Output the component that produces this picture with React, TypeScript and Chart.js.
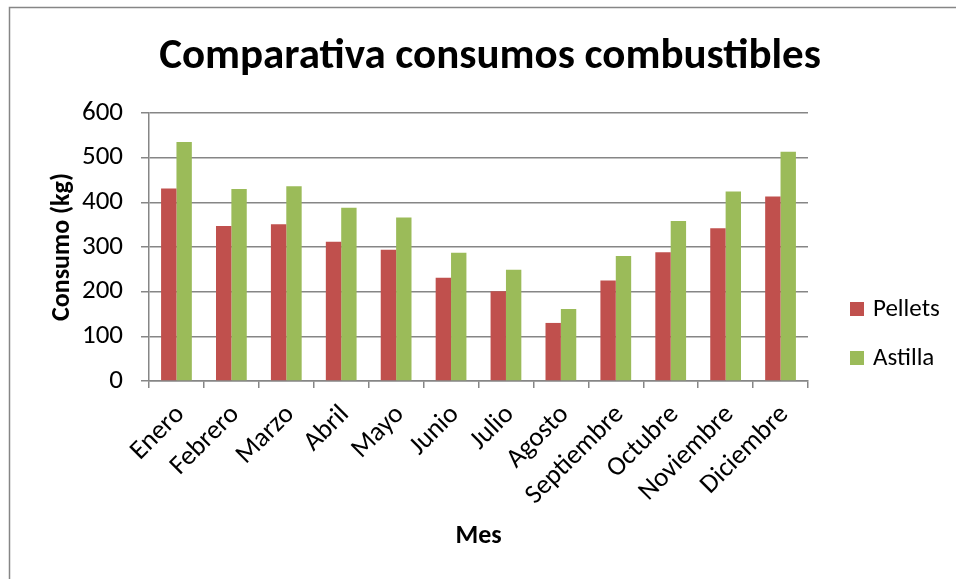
import React, { useEffect, useRef } from "react";
import { Chart, registerables } from "chart.js";

Chart.register(...registerables);

const months = [
  "Enero", "Febrero", "Marzo", "Abril", "Mayo", "Junio",
  "Julio", "Agosto", "Septiembre", "Octubre", "Noviembre", "Diciembre",
];
const pellets = [431, 347, 351, 312, 294, 231, 201, 130, 225, 288, 342, 413];
const astilla = [535, 430, 436, 388, 366, 287, 249, 161, 280, 358, 424, 513];
const yTicks = [0, 100, 200, 300, 400, 500, 600];

const chartTitle = "Comparativa consumos combustibles";
const seriesNames = ["Pellets", "Astilla"];
const seriesColors = ["#C0504D", "#9BBB59"];

const FONT = "Carlito, Calibri, Lato, sans-serif";
const GRID = "#868686";

// Outer frame, heading and the right-hand key
const decorations = {
  id: "decorations",
  afterDraw(chart: any) {
    const ctx = chart.ctx as CanvasRenderingContext2D;
    ctx.save();
    ctx.strokeStyle = GRID;
    ctx.lineWidth = 1.5;
    ctx.strokeRect(9.5, 7.5, 980, 620);

    ctx.fillStyle = "#000";
    ctx.font = `bold 43px ${FONT}`;
    ctx.textAlign = "center";
    ctx.textBaseline = "middle";
    ctx.fillText(chartTitle, 490, 57);

    ctx.font = `25px ${FONT}`;
    ctx.textAlign = "left";
    const ys = [309, 358];
    chart.data.datasets.forEach((ds: any, i: number) => {
      ctx.fillStyle = ds.backgroundColor;
      ctx.fillRect(850, ys[i] - 7, 14, 14);
      ctx.fillStyle = "#000";
      ctx.fillText(ds.label, 873, ys[i] + 1);
    });
    ctx.restore();
  },
};

export default function App() {
  const ref = useRef<HTMLCanvasElement>(null);

  useEffect(() => {
    if (!ref.current) return;
    const chart = new Chart(ref.current, {
      type: "bar",
      data: {
        labels: months,
        datasets: [
          { label: seriesNames[0], data: pellets, backgroundColor: seriesColors[0] },
          { label: seriesNames[1], data: astilla, backgroundColor: seriesColors[1] },
        ],
      },
      options: {
        responsive: false,
        animation: false,
        devicePixelRatio: 1,
        layout: { padding: { left: 10, top: 113, right: 148, bottom: 0 } },
        datasets: {
          bar: { categoryPercentage: 0.56, barPercentage: 1 },
        },
        plugins: {
          legend: { display: false },
          title: { display: false },
          tooltip: { enabled: false },
        },
        scales: {
          x: {
            afterFit(scale: any) {
              scale.height = 198;
            },
            grid: {
              drawOnChartArea: false,
              drawTicks: true,
              tickLength: 7,
              color: GRID,
              lineWidth: 1.5,
            },
            border: { color: GRID, width: 1.5 },
            ticks: {
              color: "#000",
              font: { family: FONT, size: 27 },
              minRotation: 45,
              maxRotation: 45,
              autoSkip: false,
              padding: 11,
              labelOffset: 4,
            },
            title: {
              display: true,
              text: "Mes",
              color: "#000",
              font: { family: FONT, size: 26, weight: "bold" },
              padding: { top: 0, bottom: 27 },
            },
          },
          y: {
            min: 0,
            max: 600,
            afterFit(scale: any) {
              scale.width = 139;
            },
            afterBuildTicks(scale: any) {
              scale.ticks = yTicks.map((v) => ({ value: v }));
            },
            grid: { color: GRID, lineWidth: 1.5, tickLength: 8 },
            border: { color: GRID, width: 1.5 },
            ticks: {
              color: "#000",
              font: { family: FONT, size: 27 },
              padding: 18,
            },
            title: {
              display: true,
              text: "Consumo (kg)",
              color: "#000",
              font: { family: FONT, size: 26, weight: "bold" },
              padding: { top: 37, bottom: 0 },
            },
          },
        },
      },
      plugins: [decorations],
    });
    return () => chart.destroy();
  }, []);

  return (
    <div style={{ position: "absolute", left: 0, top: 0, width: 956, height: 579, background: "#fff" }}>
      <canvas ref={ref} width={956} height={579} style={{ display: "block" }} />
    </div>
  );
}
